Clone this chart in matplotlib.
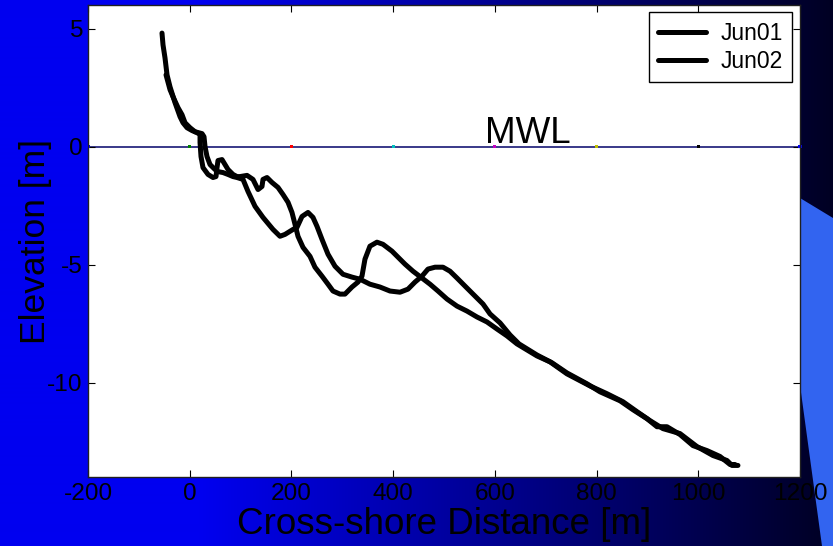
import numpy as np
import matplotlib
matplotlib.use("Agg")
import matplotlib.pyplot as plt
from matplotlib.patches import Polygon

plt.rcParams['font.family'] = ['Liberation Sans', 'DejaVu Sans']
plt.rcParams['axes.unicode_minus'] = False

# profile Jun01 (cross-shore distance [m], elevation [m])
x_jun01 = [-54.5, -52.5, -48.6, -44.6, -38.7, -28.9, -19.1, -13.2, -5.3, 4.5, 14.4, 20.3,
           20.3, 22.2, 26.1, 36.0, 45.8, 51.7, 53.7, 55.6, 63.5, 69.4, 75.3, 85.1, 93.0,
           98.9, 112.7, 124.4, 134.3, 142.1, 144.1, 152.0, 161.8, 173.6, 183.4, 193.3,
           201.1, 207.0, 212.9, 222.8, 236.5, 246.3, 260.1, 271.9, 281.7, 295.5, 305.3,
           319.1, 330.9, 338.7, 344.6, 354.4, 368.2, 380.0, 397.7, 413.5, 423.3, 439.0,
           456.7, 472.5, 488.2, 505.9, 525.6, 545.2, 564.9, 584.5, 604.2, 623.8, 643.5,
           682.8, 708.4, 741.8, 787.0, 820.4, 851.9, 879.4, 905.0, 930.5, 964.0, 997.4,
           1028.9, 1056.4, 1066.2, 1078.0]
z_jun01 = [4.81, 4.31, 3.76, 3.04, 2.53, 1.86, 1.27, 1.01, 0.80, 0.68, 0.59, 0.51,
           0.17, -0.42, -0.89, -1.18, -1.31, -1.27, -0.89, -0.59, -0.55, -0.76, -0.97, -1.18, -1.27,
           -1.27, -1.22, -1.39, -1.82, -1.69, -1.39, -1.31, -1.52, -1.73, -2.03, -2.36,
           -2.79, -3.29, -3.80, -4.27, -4.65, -5.11, -5.49, -5.83, -6.12, -6.25, -6.25,
           -5.95, -5.74, -5.49, -4.77, -4.22, -4.05, -4.14, -4.43, -4.77, -4.98, -5.28,
           -5.57, -5.83, -6.12, -6.46, -6.76, -6.97, -7.22, -7.43, -7.73, -8.02, -8.36,
           -8.87, -9.12, -9.63, -10.14, -10.47, -10.81, -11.23, -11.61, -11.95, -12.16, -12.71,
           -13.09, -13.30, -13.51, -13.51]

# profile Jun02
x_jun02 = [-46.6, -38.7, -32.8, -23.0, -15.1, -9.2, 0.6, 10.4, 24.2, 28.1, 30.1, 34.0,
           39.9, 49.7, 55.6, 65.5, 75.3, 85.1, 93.0, 104.8, 114.6, 128.4, 144.1, 163.8,
           177.5, 187.4, 203.1, 211.0, 220.8, 232.6, 242.4, 250.3, 260.1, 271.9, 285.7,
           301.4, 319.1, 334.8, 354.4, 374.1, 393.8, 413.5, 429.2, 443.0, 456.7, 468.5,
           482.3, 498.0, 511.8, 525.6, 541.3, 557.1, 576.7, 590.5, 610.2, 629.8, 647.5,
           682.8, 712.3, 741.8, 781.1, 806.7, 846.1, 871.6, 899.2, 918.8, 938.5, 964.0,
           989.6, 1017.1, 1042.7, 1062.4, 1072.2]
z_jun02 = [3.04, 2.41, 2.11, 1.65, 1.35, 1.01, 0.80, 0.63, 0.55, 0.42, 0.00, -0.42,
           -0.76, -0.97, -1.06, -1.10, -1.18, -1.27, -1.31, -1.39, -1.90, -2.53, -3.00, -3.51,
           -3.80, -3.72, -3.51, -3.42, -2.96, -2.79, -3.00, -3.38, -3.93, -4.56, -5.07,
           -5.41, -5.53, -5.62, -5.83, -5.95, -6.12, -6.17, -6.04, -5.74, -5.49, -5.19,
           -5.11, -5.11, -5.28, -5.57, -5.91, -6.25, -6.67, -7.09, -7.47, -7.98, -8.36,
           -8.83, -9.16, -9.59, -10.05, -10.39, -10.77, -11.15, -11.53, -11.87, -11.87, -12.20,
           -12.67, -12.88, -13.13, -13.47, -13.47]

# mean water level and the little coloured markers along it
mwl_x = [-200, 0, 200, 400, 600, 800, 1000, 1200]
mwl_colors = ['b', 'g', 'r', 'c', 'm', 'y', 'k', 'b']

fig = plt.figure(figsize=(8.33, 5.46), dpi=100)

# slide background: blue -> navy gradient plus the light swoosh on the right
bg = fig.add_axes([0, 0, 1, 1], zorder=-1)
xx = np.linspace(0, 1, 833)
t = np.clip((xx - 0.24) / 0.76, 0, 1)
grad = np.zeros((1, 833, 3))
grad[0, :, 2] = (240 - 205 * t) / 255.0
bg.imshow(grad, aspect='auto', extent=[0, 1, 0, 1])
bg.add_patch(Polygon([(800/833, 1-198/546), (1, 1-218/546), (1, 0),
                      (822/833, 0), (800/833, 1-385/546)],
                     closed=True, color='#3264f0', lw=0))
bg.set_xlim(0, 1)
bg.set_ylim(0, 1)
bg.axis('off')

ax = fig.add_axes([88/833, 69/546, 712/833, 472/546])
ax.set_facecolor('white')

ax.axhline(0, color='#2a2a80', lw=1.3, zorder=1)
ax.scatter(mwl_x, [0]*len(mwl_x), c=mwl_colors, s=5, marker='s', lw=0, zorder=2, clip_on=False)

ax.plot(x_jun01, z_jun01, color='k', lw=3.6, solid_capstyle='round', solid_joinstyle='round', label='Jun01', zorder=3)
ax.plot(x_jun02, z_jun02, color='k', lw=3.6, solid_capstyle='round', solid_joinstyle='round', label='Jun02', zorder=3)

ax.text(580, 0.15, 'MWL', fontsize=26.5, ha='left', va='baseline')

ax.set_xlim(-200, 1200)
ax.set_ylim(-14, 6)
ax.set_xticks(np.arange(-200, 1201, 200))
ax.set_yticks([-10, -5, 0, 5])
ax.tick_params(direction='in', length=5, width=0.8, top=True, right=True,
               labelsize=17.6, pad=4, colors='k')
for s in ax.spines.values():
    s.set_color('#202020')
    s.set_linewidth(1.0)

ax.set_xlabel('Cross-shore Distance [m]', fontsize=26.5, labelpad=2)
ax.set_ylabel('Elevation [m]', fontsize=25.5, labelpad=-4)

leg = ax.legend(loc='upper right', bbox_to_anchor=(0.989, 0.985), borderaxespad=0,
                fontsize=16.5, handlelength=2.1, labelspacing=0.22, borderpad=0.42,
                handletextpad=0.6, fancybox=False, framealpha=1, edgecolor='k')
leg.get_frame().set_linewidth(1.0)

fig.savefig('out.png', dpi=100)
